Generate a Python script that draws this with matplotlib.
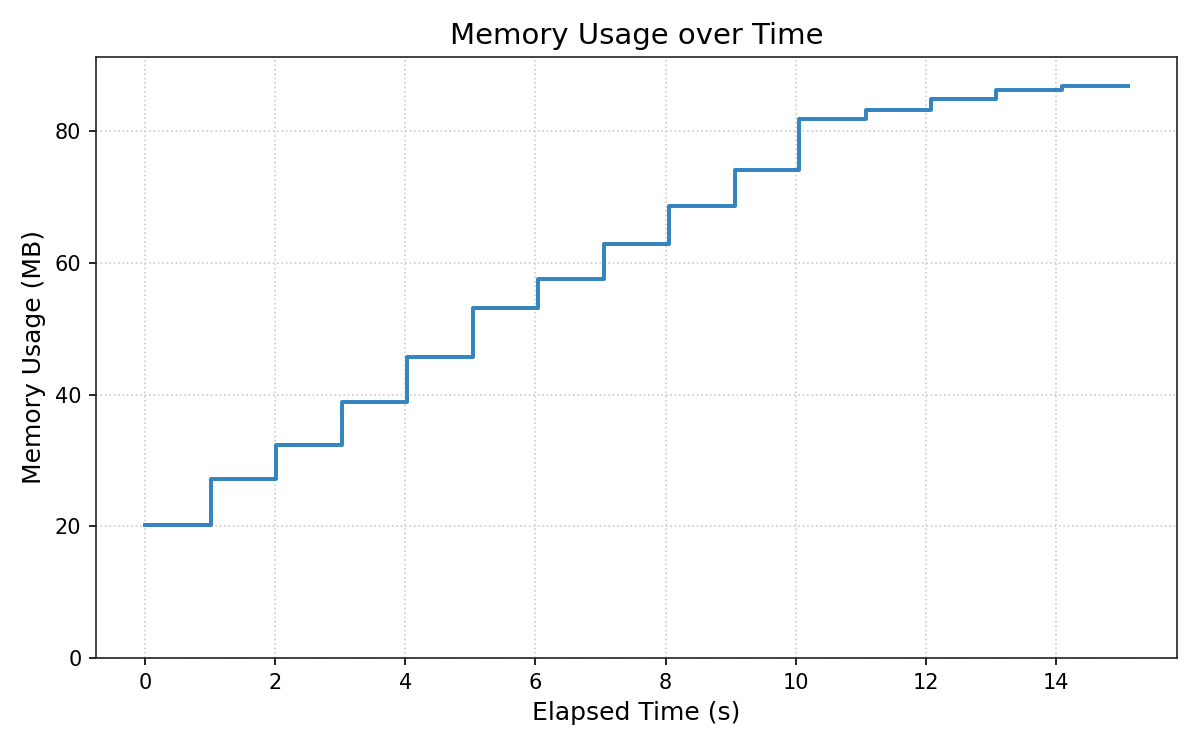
import matplotlib
matplotlib.use("Agg")
import matplotlib.pyplot as plt


# Sampled memory readings (elapsed seconds, MB)

elapsed_times = [0.0, 1.01, 2.015, 3.03, 4.02, 5.04, 6.04, 7.06, 8.06,
                 9.06, 10.05, 11.08, 12.08, 13.08, 14.10, 15.11]

memory_mb = [20.2, 27.2, 32.4, 38.8, 45.7, 53.1, 57.6, 62.8, 68.6,
             74.1, 81.8, 83.2, 84.9, 86.2, 86.9, 86.9]


fig, ax = plt.subplots(figsize=(8, 5), dpi=150)

ax.step(elapsed_times, memory_mb, where="post",
        color="#3484bf", linewidth=1.9)

ax.set_ylim(0, max(memory_mb) * 1.05)

ax.set_title("Memory Usage over Time", fontsize=14)
ax.set_xlabel("Elapsed Time (s)", fontsize=12)
ax.set_ylabel("Memory Usage (MB)", fontsize=12)
ax.tick_params(labelsize=10)

ax.grid(True, linestyle=":", color="#cccccc", linewidth=0.8)

for spine in ax.spines.values():
    spine.set_color("#222222")

fig.subplots_adjust(left=0.08, right=0.981, top=0.924, bottom=0.1227)

fig.savefig("out.png")
